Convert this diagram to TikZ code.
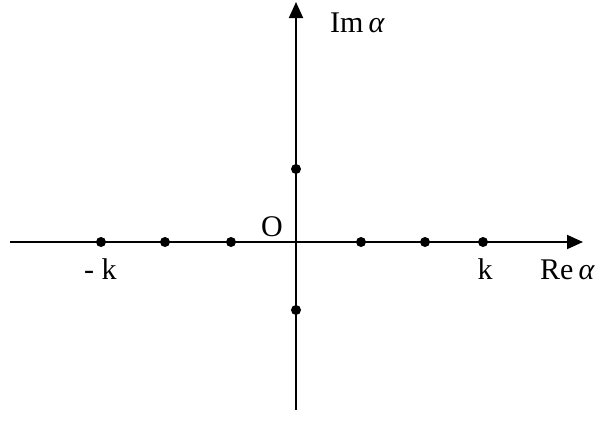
\documentclass[tikz,border=0pt]{standalone}
\usepackage{fontspec}
\setmainfont{Liberation Serif}
\usetikzlibrary{arrows.meta}
\begin{document}
\begin{tikzpicture}[x=1pt,y=-1pt,
  axis/.style={line width=1.9pt,-{Triangle[length=16pt,width=14pt]}},
  dot/.style={circle,fill=black,inner sep=0pt,minimum size=10pt},
  lbl/.style={inner sep=0pt,font=\fontsize{30}{36}\selectfont}]
\useasboundingbox (0,0) rectangle (605,437);
\coordinate (xs) at (10,242);
\coordinate (xe) at (583,242);
\coordinate (ys) at (296,410);
\coordinate (ye) at (296,2);
\draw[axis] (xs) -- (xe);
\draw[axis] (ys) -- (ye);
\foreach \x/\n in {101/a,165/b,231/c,361/d,425/e,483/f}
  \node[dot] (d\n) at (\x,242) {};
\node[dot] (up) at (296,169) {};
\node[dot] (dn) at (296,310) {};
\node[lbl,anchor=base west] (im) at (330,32) {Im\,\textit{α}};
\node[lbl,anchor=base west] (re) at (540,279) {Re\,\textit{α}};
\node[lbl,anchor=base] (o) at (272,236) {O};
\node[lbl,anchor=base west] (mk) at (84,279) {- k};
\node[lbl,anchor=base] (k) at (485,279) {k};
\end{tikzpicture}
\end{document}
